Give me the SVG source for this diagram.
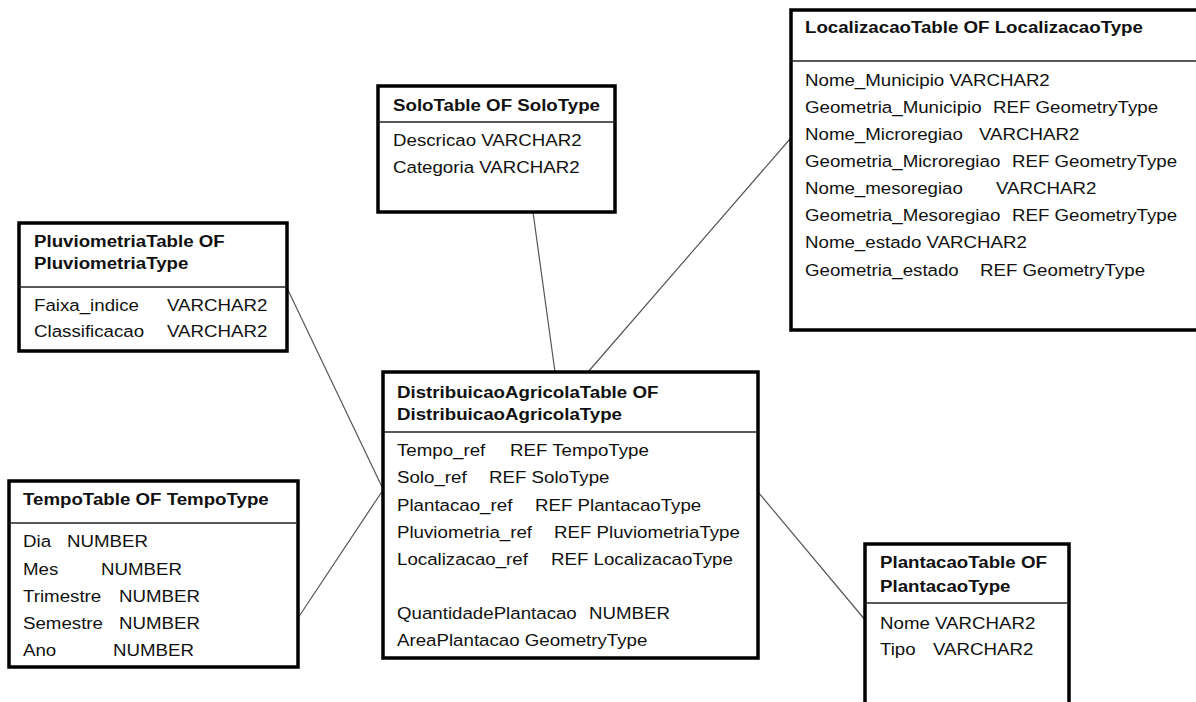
<svg xmlns="http://www.w3.org/2000/svg" width="1196" height="702" viewBox="0 0 1196 702">
  <style>
    .box { fill: #ffffff; stroke: #000000; stroke-width: 3.5; }
    .sep { stroke: #222222; stroke-width: 1.6; }
    .link { stroke: #555555; stroke-width: 1.2; fill: none; }
    text { font-family: "Liberation Sans", Arial, sans-serif; font-size: 17px; fill: #111111; }
    .h { font-weight: bold; }
  </style>
  <rect width="1196" height="702" fill="#ffffff"/>

  <!-- relationship lines between the object tables -->
  <g id="connectors">
    <line class="link" x1="533" y1="212" x2="555" y2="372"/>
    <line class="link" x1="790" y1="139" x2="588" y2="372"/>
    <line class="link" x1="288" y1="290" x2="383" y2="489"/>
    <line class="link" x1="298" y1="618" x2="383" y2="490"/>
    <line class="link" x1="758" y1="492" x2="866" y2="621"/>
  </g>

  <g id="solo">
    <rect class="box" x="378" y="86" width="237" height="126"/>
    <line class="sep" x1="378" y1="122" x2="615" y2="122"/>
    <text class="h" transform="translate(393 111) scale(1.1 1)">SoloTable OF SoloType</text>
    <text transform="translate(393 146) scale(1.1 1)">Descricao VARCHAR2</text>
    <text transform="translate(393 173) scale(1.1 1)">Categoria VARCHAR2</text>
  </g>

  <g id="localizacao">
    <rect class="box" x="791" y="10" width="410" height="320"/>
    <line class="sep" x1="791" y1="61" x2="1196" y2="61"/>
    <text class="h" transform="translate(805 33) scale(1.1 1)">LocalizacaoTable OF LocalizacaoType</text>
    <text transform="translate(805 86) scale(1.1 1)">Nome_Municipio VARCHAR2</text>
    <text transform="translate(805 113) scale(1.1 1)">Geometria_Municipio</text>
    <text transform="translate(993 113) scale(1.1 1)">REF GeometryType</text>
    <text transform="translate(805 140) scale(1.1 1)">Nome_Microregiao</text>
    <text transform="translate(979 140) scale(1.1 1)">VARCHAR2</text>
    <text transform="translate(805 167) scale(1.1 1)">Geometria_Microregiao</text>
    <text transform="translate(1012 167) scale(1.1 1)">REF GeometryType</text>
    <text transform="translate(805 194) scale(1.1 1)">Nome_mesoregiao</text>
    <text transform="translate(996 194) scale(1.1 1)">VARCHAR2</text>
    <text transform="translate(805 221) scale(1.1 1)">Geometria_Mesoregiao</text>
    <text transform="translate(1012 221) scale(1.1 1)">REF GeometryType</text>
    <text transform="translate(805 248) scale(1.1 1)">Nome_estado VARCHAR2</text>
    <text transform="translate(805 276) scale(1.1 1)">Geometria_estado</text>
    <text transform="translate(980 276) scale(1.1 1)">REF GeometryType</text>
  </g>

  <g id="pluviometria">
    <rect class="box" x="19" y="223" width="268" height="128"/>
    <line class="sep" x1="19" y1="287" x2="287" y2="287"/>
    <text class="h" transform="translate(34 247) scale(1.1 1)">PluviometriaTable OF</text>
    <text class="h" transform="translate(34 269) scale(1.1 1)">PluviometriaType</text>
    <text transform="translate(34 311) scale(1.1 1)">Faixa_indice</text>
    <text transform="translate(167 311) scale(1.1 1)">VARCHAR2</text>
    <text transform="translate(34 337) scale(1.1 1)">Classificacao</text>
    <text transform="translate(167 337) scale(1.1 1)">VARCHAR2</text>
  </g>

  <g id="tempo">
    <rect class="box" x="9" y="481" width="289" height="186"/>
    <line class="sep" x1="9" y1="523" x2="298" y2="523"/>
    <text class="h" transform="translate(23 505) scale(1.1 1)">TempoTable OF TempoType</text>
    <text transform="translate(23 547) scale(1.1 1)">Dia</text>
    <text transform="translate(67 547) scale(1.1 1)">NUMBER</text>
    <text transform="translate(23 575) scale(1.1 1)">Mes</text>
    <text transform="translate(101 575) scale(1.1 1)">NUMBER</text>
    <text transform="translate(23 602) scale(1.1 1)">Trimestre</text>
    <text transform="translate(119 602) scale(1.1 1)">NUMBER</text>
    <text transform="translate(23 629) scale(1.1 1)">Semestre</text>
    <text transform="translate(119 629) scale(1.1 1)">NUMBER</text>
    <text transform="translate(23 656) scale(1.1 1)">Ano</text>
    <text transform="translate(113 656) scale(1.1 1)">NUMBER</text>
  </g>

  <g id="distribuicao">
    <rect class="box" x="383" y="372" width="375" height="286"/>
    <line class="sep" x1="383" y1="432" x2="758" y2="432"/>
    <text class="h" transform="translate(397 398) scale(1.1 1)">DistribuicaoAgricolaTable OF</text>
    <text class="h" transform="translate(397 420) scale(1.1 1)">DistribuicaoAgricolaType</text>
    <text transform="translate(397 456) scale(1.1 1)">Tempo_ref</text>
    <text transform="translate(510 456) scale(1.1 1)">REF TempoType</text>
    <text transform="translate(397 483) scale(1.1 1)">Solo_ref</text>
    <text transform="translate(489 483) scale(1.1 1)">REF SoloType</text>
    <text transform="translate(397 511) scale(1.1 1)">Plantacao_ref</text>
    <text transform="translate(535 511) scale(1.1 1)">REF PlantacaoType</text>
    <text transform="translate(397 538) scale(1.1 1)">Pluviometria_ref</text>
    <text transform="translate(554 538) scale(1.1 1)">REF PluviometriaType</text>
    <text transform="translate(397 565) scale(1.1 1)">Localizacao_ref</text>
    <text transform="translate(551 565) scale(1.1 1)">REF LocalizacaoType</text>
    <text transform="translate(397 619) scale(1.1 1)">QuantidadePlantacao</text>
    <text transform="translate(589 619) scale(1.1 1)">NUMBER</text>
    <text transform="translate(397 646) scale(1.1 1)">AreaPlantacao GeometryType</text>
  </g>

  <g id="plantacao">
    <rect class="box" x="865" y="544" width="204" height="170"/>
    <line class="sep" x1="865" y1="603" x2="1069" y2="603"/>
    <text class="h" transform="translate(880 568) scale(1.1 1)">PlantacaoTable OF</text>
    <text class="h" transform="translate(880 592) scale(1.1 1)">PlantacaoType</text>
    <text transform="translate(880 629) scale(1.1 1)">Nome VARCHAR2</text>
    <text transform="translate(880 655) scale(1.1 1)">Tipo</text>
    <text transform="translate(933 655) scale(1.1 1)">VARCHAR2</text>
  </g>
</svg>
